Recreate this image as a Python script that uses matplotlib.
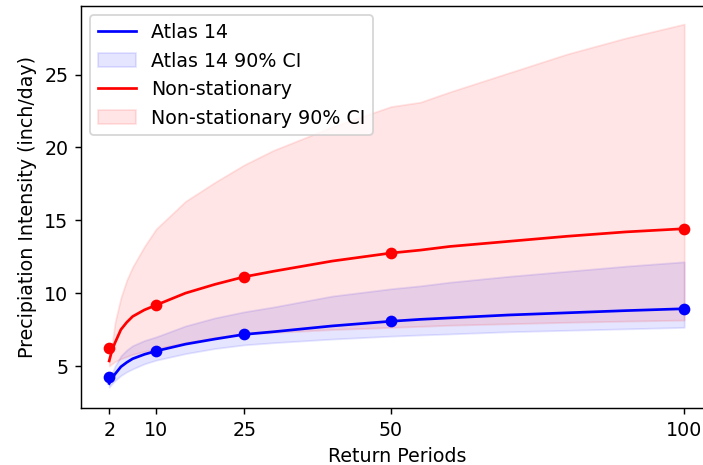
import numpy as np
import matplotlib
matplotlib.use("Agg")
import matplotlib.pyplot as plt

plt.rcParams["font.size"] = 10.5

rp = [2, 2.5, 3, 4, 5, 6, 8, 10, 15, 20, 25, 30, 40, 50, 55, 60, 70, 80, 90, 100]

# Atlas 14 curve and 90% CI
atlas = [3.8, 4.15, 4.45, 4.95, 5.25, 5.5, 5.8, 6.03, 6.5, 6.85, 7.17, 7.35, 7.75, 8.07, 8.2, 8.3, 8.5, 8.65, 8.8, 8.93]
atlas_lo = [3.55, 3.8, 4.0, 4.35, 4.6, 4.8, 5.15, 5.4, 5.85, 6.2, 6.45, 6.6, 6.85, 7.05, 7.13, 7.2, 7.35, 7.45, 7.55, 7.65]
atlas_hi = [3.95, 4.5, 5.0, 5.7, 6.1, 6.4, 6.75, 7.0, 7.75, 8.3, 8.72, 9.05, 9.8, 10.3, 10.5, 10.75, 11.15, 11.5, 11.85, 12.15]

# non-stationary curve and 90% CI
nonst = [5.35, 6.1, 6.6, 7.5, 8.0, 8.4, 8.85, 9.18, 10.0, 10.6, 11.12, 11.5, 12.2, 12.75, 12.95, 13.2, 13.55, 13.9, 14.2, 14.42]
nonst_lo = [5.0, 5.15, 5.3, 5.5, 5.65, 5.8, 6.0, 6.2, 6.6, 6.95, 7.2, 7.3, 7.5, 7.65, 7.72, 7.8, 7.9, 8.0, 8.08, 8.15]
nonst_hi = [5.4, 6.5, 8.0, 9.7, 10.9, 11.8, 13.2, 14.4, 16.3, 17.6, 18.8, 19.8, 21.4, 22.8, 23.1, 23.8, 25.1, 26.4, 27.5, 28.46]

# estimates at the standard return periods (dots)
rp_pts = [2, 10, 25, 50, 100]
atlas_pts = [4.22, 6.03, 7.17, 8.07, 8.93]
nonst_pts = [6.26, 9.18, 11.12, 12.75, 14.42]

dpi = 130
fig = plt.figure(figsize=(703 / dpi, 465 / dpi), dpi=dpi)
ax = fig.add_axes([81 / 703, 1 - 408 / 465, 632 / 703, 402 / 465])

ax.plot(rp, atlas, color="blue", label="Atlas 14")
ax.fill_between(rp, atlas_lo, atlas_hi, color="blue", alpha=0.1, label="Atlas 14 90% CI")
ax.scatter(rp_pts, atlas_pts, color="blue", s=30, zorder=3)

ax.plot(rp, nonst, color="red", label="Non-stationary")
ax.fill_between(rp, nonst_lo, nonst_hi, color="red", alpha=0.1, label="Non-stationary 90% CI")
ax.scatter(rp_pts, nonst_pts, color="red", s=30, zorder=3)

ax.set_xticks(rp_pts)
ax.set_xlim(-2.8, 104.9)
ax.set_ylim(2.12, 29.7)
ax.set_xlabel("Return Periods")
ax.set_ylabel("Precipiation Intensity (inch/day)")
ax.legend(loc="upper left")

fig.savefig("out.png", dpi=dpi)
